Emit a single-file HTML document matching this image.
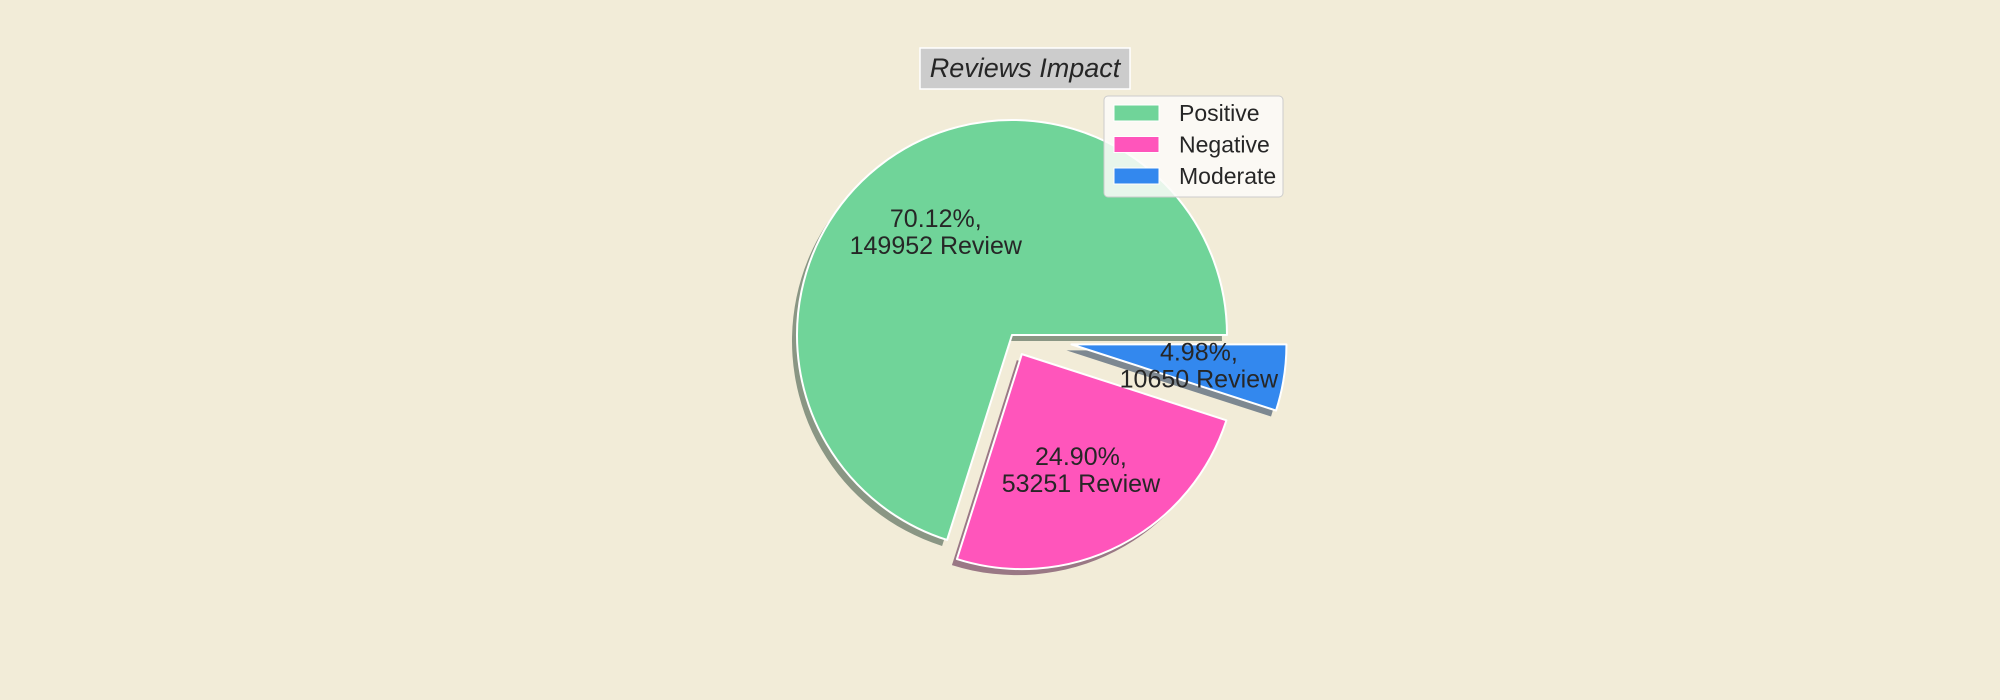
<!DOCTYPE html>
<html><head><meta charset="utf-8">
<style>
html,body{margin:0;padding:0;background:#F2ECD8;}
svg{display:block;font-family:"Liberation Sans",sans-serif;}
</style></head>
<body>
<svg id="chart" width="2000" height="700" viewBox="0 0 2000 700">
  <rect width="2000" height="700" fill="#F2ECD8"/>
  <g id="shadows"></g>
  <g id="wedges"></g>
  <g id="labels"></g>
  <g>
    <rect x="920" y="48" width="210" height="41" fill="#cccccc" stroke="#ffffff" stroke-width="1.5"/>
    <text x="1025" y="77" text-anchor="middle" font-size="27" font-style="italic" fill="#262626">Reviews Impact</text>
  </g>
  <g id="legend">
    <rect x="1104" y="96" width="179" height="101" rx="4" fill="#fdfcf9" fill-opacity="0.85" stroke="#cccccc" stroke-width="1"/>
  </g>
</svg>
<script>
const categories = ["Positive", "Negative", "Moderate"];
const counts = [149952, 53251, 10650];
const explode = [0, 0.1, 0.28];
const colors = ["#70D499", "#FF55BB", "#3388EE"];
const shadowColors = ["#8a9684", "#9a7885", "#7d8891"];

const cx = 1012, cy = 335, R = 215;
const NS = "http://www.w3.org/2000/svg";
const total = counts.reduce((a, b) => a + b, 0);
function pt(x0, y0, r, deg) {
  const a = deg * Math.PI / 180;
  return [x0 + r * Math.cos(a), y0 - r * Math.sin(a)];
}
function wedgePath(x0, y0, a0, a1) {
  const p0 = pt(x0, y0, R, a0), p1 = pt(x0, y0, R, a1);
  const large = (a1 - a0) > 180 ? 1 : 0;
  return `M${x0},${y0} L${p0[0]},${p0[1]} A${R},${R} 0 ${large} 0 ${p1[0]},${p1[1]} Z`;
}
const gS = document.getElementById("shadows");
const gW = document.getElementById("wedges");
const gL = document.getElementById("labels");
let start = 0;
counts.forEach((v, i) => {
  const sweep = v / total * 360;
  const a0 = start, a1 = start + sweep, mid = (a0 + a1) / 2;
  const [ox, oy] = pt(cx, cy, explode[i] * R, mid);
  const sh = document.createElementNS(NS, "path");
  sh.setAttribute("d", wedgePath(ox - 5, oy + 6, a0, a1));
  sh.setAttribute("fill", shadowColors[i]);
  
  
  gS.appendChild(sh);
  const w = document.createElementNS(NS, "path");
  w.setAttribute("d", wedgePath(ox, oy, a0, a1));
  w.setAttribute("fill", colors[i]);
  w.setAttribute("stroke", "#ffffff");
  w.setAttribute("stroke-width", "2");
  w.setAttribute("stroke-linejoin", "round");
  
  
  gW.appendChild(w);
  const [lx, ly] = pt(ox, oy, 0.6 * R, mid);
  const t = document.createElementNS(NS, "text");
  t.setAttribute("text-anchor", "middle");
  t.setAttribute("font-size", "25");
  t.setAttribute("fill", "#262626");
  
  
  const pct = (v / total * 100).toFixed(2) + "%,";
  const s1 = document.createElementNS(NS, "tspan");
  s1.setAttribute("x", lx); s1.setAttribute("y", ly - 4);
  s1.textContent = pct;
  const s2 = document.createElementNS(NS, "tspan");
  s2.setAttribute("x", lx); s2.setAttribute("y", ly + 23);
  s2.textContent = v + " Review";
  t.appendChild(s1); t.appendChild(s2);
  gL.appendChild(t);
  start = a1;
});
const gLeg = document.getElementById("legend");
categories.forEach((c, i) => {
  const y = 113 + i * 31.5;
  const g = document.createElementNS(NS, "g");
  
  
  const r = document.createElementNS(NS, "rect");
  r.setAttribute("x", 1114); r.setAttribute("y", y - 8);
  r.setAttribute("width", 45); r.setAttribute("height", 16);
  r.setAttribute("fill", colors[i]); r.setAttribute("stroke", "#ffffff");
  const t = document.createElementNS(NS, "text");
  t.setAttribute("x", 1179); t.setAttribute("y", y + 8);
  t.setAttribute("font-size", "23"); t.setAttribute("fill", "#262626");
  t.textContent = c;
  g.appendChild(r); g.appendChild(t);
  gLeg.appendChild(g);
});
</script>
</body></html>
